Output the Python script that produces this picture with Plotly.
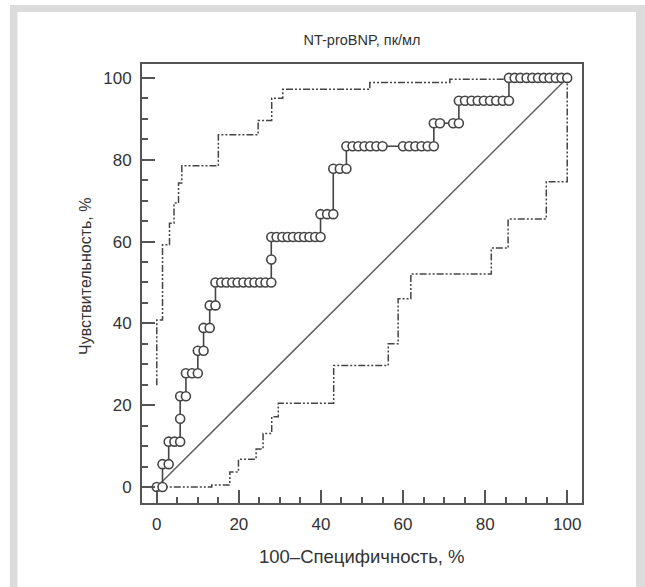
import plotly.graph_objects as go

# ---- data ----
x_ticks = [0, 20, 40, 60, 80, 100]
y_ticks = [0, 20, 40, 60, 80, 100]

roc_fpr = [0, 1.4,
           1.4, 2.9,
           2.9, 4.3, 5.7,
           5.7,
           5.7, 7.1,
           7.1, 8.6, 10.0,
           10.0, 11.4,
           11.4, 12.9,
           12.9, 14.3,
           14.3, 15.7, 17.0, 18.4, 19.7, 21.1, 22.5, 23.8, 25.2, 26.5, 27.9,
           27.9,
           27.9, 29.2, 30.6, 31.9, 33.2, 34.6, 35.9, 37.2, 38.6, 39.9,
           39.9, 41.5, 43.0,
           43.0, 44.6, 46.2,
           46.2, 47.7, 49.1, 50.6, 52.0, 53.5, 55.0, 60.0, 61.5, 63.0, 64.5, 66.0, 67.5,
           67.5, 69.0, 72.2, 73.6,
           73.6, 75.1, 76.7, 78.2, 79.7, 81.2, 82.7, 84.3, 85.8,
           85.8, 87.2, 88.6, 90.1, 91.5, 92.9, 94.3, 95.7, 97.2, 98.6, 100]
roc_tpr = [0, 0,
           5.6, 5.6,
           11.1, 11.1, 11.1,
           16.7,
           22.2, 22.2,
           27.8, 27.8, 27.8,
           33.3, 33.3,
           38.9, 38.9,
           44.4, 44.4,
           50, 50, 50, 50, 50, 50, 50, 50, 50, 50, 50,
           55.6,
           61.1, 61.1, 61.1, 61.1, 61.1, 61.1, 61.1, 61.1, 61.1, 61.1,
           66.7, 66.7, 66.7,
           77.8, 77.8, 77.8,
           83.3, 83.3, 83.3, 83.3, 83.3, 83.3, 83.3, 83.3, 83.3, 83.3, 83.3, 83.3, 83.3,
           88.9, 88.9, 88.9, 88.9,
           94.4, 94.4, 94.4, 94.4, 94.4, 94.4, 94.4, 94.4, 94.4,
           100, 100, 100, 100, 100, 100, 100, 100, 100, 100, 100]

# upper 95% confidence bound (corner points, vertical-then-horizontal steps)
upper_fpr = [0, 1.4, 3.1, 4.2, 5.3, 6.1, 15.0, 24.7, 28.0, 30.7, 51.9, 71.4, 85.2, 100]
upper_tpr = [24.9, 40.8, 59.2, 64.5, 69.4, 74.3, 78.5, 86.1, 89.6, 95.0, 97.2, 98.9, 99.7, 100]

# lower 95% confidence bound (corner points, horizontal-then-vertical steps)
lower_fpr = [0, 13.4, 17.8, 19.9, 24.2, 25.9, 28.0, 29.6, 43.1, 56.4, 58.8, 61.9, 81.5, 85.6, 94.9, 100]
lower_tpr = [0, 0.5, 3.7, 6.8, 9.3, 13.1, 17.2, 20.5, 29.7, 35.0, 46.0, 52.1, 58.4, 65.5, 74.6, 100]

diag = [0, 100]

# ---- figure ----
W, H = 645, 587
ML, MR, MT, MB = 142, 63, 64, 84
PW, PH = W - ML - MR, H - MT - MB

def px_x(p):
    return (p - ML) / PW

def px_y(p):
    return (H - MB - p) / PH

DARK = "#454545"
TEXT = "#333333"
FONT = "Liberation Sans, Arial, sans-serif"
DASH = "7px,2px,2px,2px,2px,2px"

fig = go.Figure()
fig.add_trace(go.Scatter(x=diag, y=diag, mode="lines",
                         line=dict(color="#606060", width=1.5), hoverinfo="skip"))
fig.add_trace(go.Scatter(x=upper_fpr, y=upper_tpr, mode="lines",
                         line=dict(color=DARK, width=1.5, dash=DASH, shape="vh")))
fig.add_trace(go.Scatter(x=lower_fpr, y=lower_tpr, mode="lines",
                         line=dict(color=DARK, width=1.5, dash=DASH, shape="hv")))
fig.add_trace(go.Scatter(x=roc_fpr, y=roc_tpr, mode="lines+markers",
                         line=dict(color=DARK, width=1.6),
                         marker=dict(symbol="circle", size=9, color="white",
                                     line=dict(color=DARK, width=1.6))))

axis_common = dict(
    showgrid=False, zeroline=False, showline=True, linecolor="#555555", linewidth=2,
    mirror=True, ticks="inside", ticklen=13, tickwidth=1.5, tickcolor="#555555",
    tickmode="linear", tick0=0, dtick=20, ticklabelstandoff=5,
    tickfont=dict(family=FONT, size=17, color=TEXT),
    minor=dict(tickmode="linear", tick0=0, dtick=5, ticks="inside", ticklen=6,
               tickwidth=1.5, tickcolor="#555555"),
)
fig.update_xaxes(range=[-3.6, 103.6], **axis_common)
fig.update_yaxes(range=[-3.9, 103.4], **axis_common)

band = "#dcdcdc"
shapes = [
    dict(type="rect", xref="paper", yref="paper", x0=px_x(10), x1=px_x(17.5),
         y0=px_y(600), y1=px_y(5), fillcolor=band, line=dict(width=0), layer="below"),
    dict(type="rect", xref="paper", yref="paper", x0=px_x(10), x1=px_x(650),
         y0=px_y(12), y1=px_y(5), fillcolor=band, line=dict(width=0), layer="below"),
    dict(type="rect", xref="paper", yref="paper", x0=px_x(636), x1=px_x(650),
         y0=px_y(600), y1=px_y(5), fillcolor=band, line=dict(width=0), layer="below"),
]

annotations = [
    dict(text="100–Специфичность, %", xref="paper", yref="paper", x=px_x(362), y=px_y(556),
         xanchor="center", yanchor="middle", showarrow=False,
         font=dict(family=FONT, size=18.5, color=TEXT)),
    dict(text="Чувствительность, %", xref="paper", yref="paper", x=px_x(85), y=px_y(277),
         xanchor="center", yanchor="middle", textangle=-90, showarrow=False,
         font=dict(family=FONT, size=16, color=TEXT)),
]

fig.update_layout(
    width=W, height=H,
    margin=dict(l=ML, r=MR, t=MT, b=MB, pad=0),
    paper_bgcolor="white", plot_bgcolor="white",
    showlegend=False,
    title=dict(text="NT-proBNP, пк/мл", x=px_x(362), xanchor="center", xref="paper",
               y=1 - 40 / H, yanchor="middle", yref="container",
               font=dict(family=FONT, size=14.5, color=TEXT)),
    shapes=shapes, annotations=annotations,
)

fig.write_html("out.html", config={"displayModeBar": False},
               post_script="document.body.style.margin='0';")
